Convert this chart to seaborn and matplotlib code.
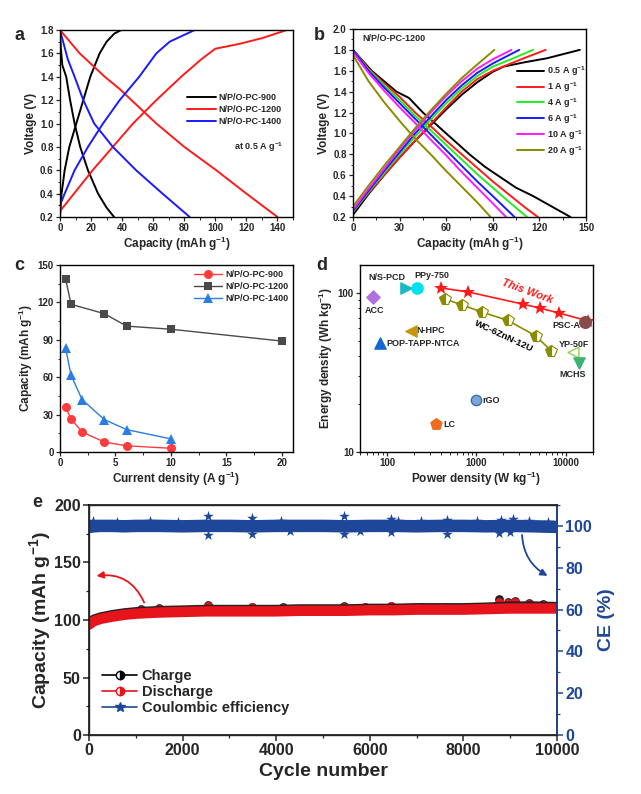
import matplotlib
matplotlib.use("Agg")
import matplotlib.pyplot as plt
from matplotlib.ticker import MultipleLocator, FixedLocator, LogLocator, NullFormatter
from matplotlib.lines import Line2D
import numpy as np
import pandas as pd
import seaborn as sns

sns.set_theme(style="ticks")
plt.rcParams['font.family'] = ['Liberation Sans', 'DejaVu Sans']
plt.rcParams['font.weight'] = 'bold'
plt.rcParams['axes.labelweight'] = 'bold'
plt.rcParams['mathtext.fontset'] = 'custom'
plt.rcParams['mathtext.rm'] = 'Liberation Sans:bold'
plt.rcParams['mathtext.bf'] = 'Liberation Sans:bold'
plt.rcParams['mathtext.default'] = 'rm'
plt.rcParams['axes.linewidth'] = 1.0

# ---------------- data: panel a (GCD at 0.5 A/g) ----------------
a_900_chg_cap = [0, 1, 3, 6, 10.5, 15, 19.5, 25.5, 30, 35, 39.5]
a_900_chg_v = [0.2, 0.4, 0.6, 0.8, 1.0, 1.2, 1.4, 1.6, 1.7, 1.77, 1.8]
a_900_dis_cap = [0, 0.5, 1.5, 4, 6.5, 9.4, 13, 18, 24.5, 30, 34.8]
a_900_dis_v = [1.8, 1.65, 1.5, 1.4, 1.2, 1.0, 0.8, 0.6, 0.4, 0.28, 0.2]
a_1200_chg_cap = [0, 9, 21, 34, 47, 62, 78, 91, 100, 115, 130, 146]
a_1200_chg_v = [0.25, 0.4, 0.6, 0.8, 1.0, 1.2, 1.4, 1.55, 1.64, 1.68, 1.73, 1.8]
a_1200_dis_cap = [0, 12.7, 28.8, 38, 46, 62, 80, 100.6, 120, 140]
a_1200_dis_v = [1.8, 1.6, 1.4, 1.3, 1.2, 1.0, 0.8, 0.6, 0.4, 0.2]
a_1400_chg_cap = [0, 3, 9.4, 18, 27.7, 38.4, 51, 62, 70.6, 86.7]
a_1400_chg_v = [0.3, 0.4, 0.6, 0.8, 1.0, 1.2, 1.4, 1.6, 1.7, 1.8]
a_1400_dis_cap = [0, 2, 5, 9.4, 15, 22, 34, 49, 66, 83.5]
a_1400_dis_v = [1.8, 1.7, 1.55, 1.4, 1.2, 1.0, 0.8, 0.6, 0.4, 0.2]

# ---------------- data: panel b (N/P/O-PC-1200 at rates) ----------------
b_labels = ['0.5 A g$^{-1}$', '1 A g$^{-1}$', '4 A g$^{-1}$', '6 A g$^{-1}$', '10 A g$^{-1}$', '20 A g$^{-1}$']
b_colors = ['black', '#ff1a1a', '#22ee22', '#1a1aff', '#ff1aff', '#8b8b00']
b_chg_cap = [
    [0, 10, 20, 30, 40, 50, 60, 70, 80, 90, 97, 110, 125, 146],
    [0, 10, 20, 30, 40, 50, 60, 70, 80, 90, 100, 110, 124],
    [0, 10, 20, 30, 40, 50, 60, 70, 80, 90, 100, 116],
    [0, 10, 20, 30, 40, 50, 60, 70, 80, 90, 107],
    [0, 10, 20, 30, 40, 50, 60, 70, 80, 90, 102],
    [0, 10, 20, 30, 40, 50, 60, 70, 80, 91],
]
b_chg_v = [
    [0.22, 0.42, 0.6, 0.77, 0.93, 1.08, 1.23, 1.37, 1.49, 1.59, 1.64, 1.68, 1.72, 1.8],
    [0.25, 0.43, 0.6, 0.77, 0.93, 1.09, 1.25, 1.4, 1.52, 1.6, 1.66, 1.72, 1.8],
    [0.25, 0.44, 0.62, 0.8, 0.97, 1.13, 1.29, 1.43, 1.55, 1.64, 1.7, 1.8],
    [0.26, 0.45, 0.64, 0.82, 1.0, 1.16, 1.32, 1.46, 1.58, 1.67, 1.8],
    [0.27, 0.47, 0.66, 0.85, 1.03, 1.2, 1.36, 1.5, 1.62, 1.71, 1.8],
    [0.3, 0.5, 0.69, 0.87, 1.05, 1.22, 1.38, 1.53, 1.66, 1.8],
]
b_dis_cap = [
    [0, 12, 28, 36, 45, 60, 75, 85, 95, 105, 116, 128, 140],
    [0, 10, 20, 30, 40, 50, 60, 70, 80, 90, 100, 110, 119],
    [0, 10, 20, 30, 40, 50, 60, 70, 80, 90, 100, 112],
    [0, 10, 20, 30, 40, 50, 60, 70, 80, 90, 104],
    [0, 10, 20, 30, 40, 50, 60, 70, 80, 90, 98.5],
    [0, 10, 20, 30, 40, 50, 60, 70, 80, 88.6],
]
b_dis_v = [
    [1.8, 1.6, 1.4, 1.34, 1.2, 1.0, 0.8, 0.68, 0.58, 0.48, 0.4, 0.3, 0.2],
    [1.8, 1.62, 1.48, 1.35, 1.2, 1.07, 0.93, 0.8, 0.67, 0.54, 0.42, 0.3, 0.2],
    [1.8, 1.61, 1.46, 1.32, 1.17, 1.03, 0.89, 0.75, 0.61, 0.48, 0.35, 0.2],
    [1.8, 1.6, 1.44, 1.29, 1.14, 0.99, 0.84, 0.69, 0.54, 0.4, 0.2],
    [1.78, 1.58, 1.41, 1.25, 1.1, 0.94, 0.79, 0.63, 0.48, 0.33, 0.2],
    [1.75, 1.5, 1.3, 1.12, 0.95, 0.8, 0.64, 0.49, 0.34, 0.2],
]

# ---------------- data: panel c (rate capability) ----------------
c_900_x = [0.5, 1, 2, 4, 6, 10]
c_900_y = [36, 26.5, 16, 8, 5, 3]
c_1200_x = [0.5, 1, 4, 6, 10, 20]
c_1200_y = [139, 118.5, 111, 101, 98.5, 89]
c_1400_x = [0.5, 1, 2, 4, 6, 10]
c_1400_y = [83.5, 61.5, 42, 26, 18, 10.5]

# ---------------- data: panel d (Ragone) ----------------
d_this_p = [406, 813, 3335, 5140, 8410, 17500]
d_this_e = [107.5, 101.5, 85, 80.4, 74.8, 66.8]
d_wc_p = [443, 684, 1148, 2255, 4590, 6780]
d_wc_e = [91.6, 84.4, 75.9, 67.2, 53.7, 43.5]
d_names = ['ACC', 'N/S-PCD', 'PPy-750', 'N-HPC', 'POP-TAPP-NTCA', 'rGO', 'LC', 'PSC-A', 'YP-50F', 'MCHS']
d_power = [69, 164, 216, 187, 84, 1000, 357, 16100, 11900, 13900]
d_energy = [93.9, 107, 107, 58, 48.3, 21.2, 15, 65.3, 42.8, 36.5]

# ---------------- data: panel e (cycling) ----------------
e_cycle = [0, 100, 250, 500, 750, 1000, 1500, 2000, 2500, 3000, 3500, 4000,
           4500, 5000, 5500, 6000, 6500, 7000, 7500, 8000, 8500, 9000, 9500, 10000]
e_dis = [96, 99, 101, 103, 104.5, 105.5, 106.5, 107, 107.5, 107.5, 107.5, 107.5,
         108, 108, 108, 108.5, 108.5, 109, 109, 109, 109.5, 110, 110, 110]
e_chg = [97, 100.5, 102.5, 104.5, 106, 107, 108, 108.5, 109, 109, 109, 109,
         109.5, 109.5, 109.5, 110, 110, 110.5, 110.5, 110.5, 111, 112, 112, 111.5]
e_ce = [99.5, 99.8, 100, 100, 99.8, 100, 100, 99.8, 100, 100, 99.8, 100,
        100, 100, 99.8, 100, 100, 99.8, 100, 100, 99.8, 100, 99.8, 99.5]
e_bump_cyc = [1100, 1500, 2550, 3480, 4150, 5450, 5900, 6450, 7100, 7650, 8750, 8950, 9100, 9400, 9700]
e_bump_chg = [109.5, 110.5, 113, 111.5, 111, 112, 111.5, 112.5, 111.5, 111.5, 118, 116, 116.5, 115, 114]
e_bump_dis = [108.5, 109.5, 112, 111, 110.5, 111.5, 111, 112, 111, 111, 116, 115, 115.5, 114, 113]
e_spike_cyc = [80, 600, 1300, 1900, 2550, 2550, 3480, 3480, 4100, 4300, 5450, 5450, 5800, 6450,
               6450, 6600, 7100, 7650, 7650, 8300, 8750, 8800, 9000, 9050, 9400, 9800]
e_spike_ce = [102.5, 102, 102.5, 102, 104.5, 95.5, 104, 96, 102.5, 97.5, 104.5, 96, 97.5, 103.5,
              97, 102.5, 102.5, 103, 96, 102.5, 96.5, 103, 97, 103.5, 102.5, 102]

TICK = 7
LAB = 8.5

fig = plt.figure(figsize=(6.41, 7.94), dpi=100)
fig.patch.set_facecolor('white')


def style_small(ax):
    ax.tick_params(direction='out', length=3, width=0.9, labelsize=TICK, pad=1.5)
    ax.tick_params(which='minor', direction='out', length=1.8, width=0.7)
    for s in ax.spines.values():
        s.set_linewidth(1.0)
        s.set_color('black')


def curve(ax, x, y, color, label=None):
    sns.lineplot(x=x, y=y, ax=ax, color=color, linewidth=1.4, label=label, sort=False,
                 estimator=None)


# ---------------- panel a ----------------
ax_a = fig.add_axes([0.0936, 0.7267, 0.3635, 0.2355])
curve(ax_a, a_900_chg_cap, a_900_chg_v, 'black', 'N/P/O-PC-900')
curve(ax_a, a_900_dis_cap, a_900_dis_v, 'black')
curve(ax_a, a_1200_chg_cap, a_1200_chg_v, '#ff1a1a', 'N/P/O-PC-1200')
curve(ax_a, a_1200_dis_cap, a_1200_dis_v, '#ff1a1a')
curve(ax_a, a_1400_chg_cap, a_1400_chg_v, '#1a1aff', 'N/P/O-PC-1400')
curve(ax_a, a_1400_dis_cap, a_1400_dis_v, '#1a1aff')
ax_a.set_xlim(0, 150)
ax_a.set_ylim(0.2, 1.8)
ax_a.xaxis.set_major_locator(FixedLocator([0, 20, 40, 60, 80, 100, 120, 140]))
ax_a.yaxis.set_major_locator(MultipleLocator(0.2))
ax_a.xaxis.set_minor_locator(MultipleLocator(10))
ax_a.yaxis.set_minor_locator(MultipleLocator(0.1))
ax_a.yaxis.set_major_formatter(plt.FormatStrFormatter('%.1f'))
ax_a.set_xlabel('Capacity (mAh g$^{-1}$)', fontsize=LAB, labelpad=1)
ax_a.set_ylabel('Voltage (V)', fontsize=LAB, labelpad=2)
ax_a.legend(loc='center left', bbox_to_anchor=(0.53, 0.575), frameon=False, fontsize=6.5,
            handlelength=3.2, handletextpad=0.3, labelspacing=0.35, borderaxespad=0)
ax_a.text(0.745, 0.375, 'at 0.5 A g$^{-1}$', transform=ax_a.transAxes, fontsize=6.5, va='center')
style_small(ax_a)

# ---------------- panel b ----------------
ax_b = fig.add_axes([0.5507, 0.7267, 0.3635, 0.2368])
for lab, col, cx, cy, dx, dy in zip(b_labels, b_colors, b_chg_cap, b_chg_v, b_dis_cap, b_dis_v):
    curve(ax_b, cx, cy, col, lab)
    curve(ax_b, dx, dy, col)
ax_b.set_xlim(0, 150)
ax_b.set_ylim(0.2, 2.0)
ax_b.xaxis.set_major_locator(MultipleLocator(30))
ax_b.xaxis.set_minor_locator(MultipleLocator(15))
ax_b.yaxis.set_major_locator(MultipleLocator(0.2))
ax_b.yaxis.set_minor_locator(MultipleLocator(0.1))
ax_b.yaxis.set_major_formatter(plt.FormatStrFormatter('%.1f'))
ax_b.set_xlabel('Capacity (mAh g$^{-1}$)', fontsize=LAB, labelpad=1)
ax_b.set_ylabel('Voltage (V)', fontsize=LAB, labelpad=2)
ax_b.legend(loc='center left', bbox_to_anchor=(0.69, 0.565), frameon=False, fontsize=6.5,
            handlelength=3.0, handletextpad=0.3, labelspacing=0.25, borderaxespad=0)
ax_b.text(0.04, 0.95, 'N/P/O-PC-1200', transform=ax_b.transAxes, fontsize=6.5, va='center')
style_small(ax_b)

# ---------------- panel c ----------------
ax_c = fig.add_axes([0.0936, 0.4307, 0.3635, 0.2355])
sns.lineplot(x=c_900_x, y=c_900_y, ax=ax_c, color='#ff3b3b', marker='o', markersize=6.5,
             markeredgewidth=0, linewidth=1.0, label='N/P/O-PC-900')
sns.lineplot(x=c_1200_x, y=c_1200_y, ax=ax_c, color='#4a4a4a', marker='s', markersize=6,
             markeredgewidth=0, linewidth=1.0, label='N/P/O-PC-1200')
sns.lineplot(x=c_1400_x, y=c_1400_y, ax=ax_c, color='#2a7de1', marker='^', markersize=7,
             markeredgewidth=0, linewidth=1.0, label='N/P/O-PC-1400')
ax_c.set_xlim(0, 21)
ax_c.set_ylim(0, 150)
ax_c.xaxis.set_major_locator(MultipleLocator(5))
ax_c.xaxis.set_minor_locator(MultipleLocator(2.5))
ax_c.yaxis.set_major_locator(MultipleLocator(30))
ax_c.yaxis.set_minor_locator(MultipleLocator(15))
ax_c.set_xlabel('Current density (A g$^{-1}$)', fontsize=LAB, labelpad=1)
ax_c.set_ylabel('Capacity (mAh g$^{-1}$)', fontsize=LAB, labelpad=2)
ax_c.legend(loc='upper left', bbox_to_anchor=(0.55, 1.0), frameon=False, fontsize=6.5,
            handlelength=3.2, handletextpad=0.3, labelspacing=0.3, borderaxespad=0.2)
style_small(ax_c)

# ---------------- panel d ----------------
ax_d = fig.add_axes([0.5616, 0.4307, 0.3635, 0.2355])
ax_d.set_xscale('log')
ax_d.set_yscale('log')
sns.lineplot(x=d_this_p, y=d_this_e, ax=ax_d, color='#ff1a1a', marker='*', markersize=10,
             markeredgewidth=0, linewidth=1.2)
sns.lineplot(x=d_wc_p, y=d_wc_e, ax=ax_d, color='#8b8b00', marker='p', markersize=8.5,
             fillstyle='left', markerfacecoloralt='white', markeredgecolor='#8b8b00',
             markeredgewidth=0.8, linewidth=1.2)
d_styles = {
    'ACC': dict(marker='D', color='#b070e0', s=45),
    'N/S-PCD': dict(marker='>', color='#1ab8c0', s=65),
    'PPy-750': dict(marker='o', color='#00e0f0', s=65),
    'N-HPC': dict(marker='<', color='#c8960a', s=65),
    'POP-TAPP-NTCA': dict(marker='^', color='#1565d8', s=65),
    'rGO': dict(marker='o', color='#7ba7d8', s=55),
    'LC': dict(marker='p', color='#f26a1b', s=70),
    'PSC-A': dict(marker='o', color='#8b4a4a', s=70),
    'YP-50F': dict(marker='<', color='white', s=60),
    'MCHS': dict(marker='v', color='#3cb371', s=65),
}
for name, p, e in zip(d_names, d_power, d_energy):
    st = d_styles[name]
    edge = '#8fd14f' if name == 'YP-50F' else ('#3a6ea5' if name == 'rGO' else st['color'])
    ax_d.scatter([p], [e], marker=st['marker'], s=st['s'], c=st['color'], edgecolors=edge,
                 linewidths=1.0, zorder=4)
d_text = [
    ('N/S-PCD', 99, 125.6, 'center'), ('PPy-750', 313, 129, 'center'), ('ACC', 73, 77.3, 'center'),
    ('N-HPC', 212, 58, 'left'), ('POP-TAPP-NTCA', 99, 48.3, 'left'), ('rGO', 1150, 21.2, 'left'),
    ('LC', 432, 15, 'left'), ('PSC-A', 10000, 62.5, 'center'), ('YP-50F', 12400, 47.7, 'center'),
    ('MCHS', 11900, 30.8, 'center'),
]
for t, x, y, ha in d_text:
    ax_d.text(x, y, t, fontsize=6.5, ha=ha, va='center')
ax_d.text(3700, 102.5, 'This Work', color='#ff1a1a', fontsize=8, style='italic',
          rotation=-20, ha='center', va='center')
ax_d.text(2020, 53.2, 'WC-6ZnN-12U', color='black', fontsize=6.8,
          rotation=-25, ha='center', va='center')
ax_d.set_xlim(50, 20000)
ax_d.set_ylim(10, 150)
ax_d.xaxis.set_major_locator(FixedLocator([100, 1000, 10000]))
ax_d.xaxis.set_major_formatter(plt.FixedFormatter(['100', '1000', '10000']))
ax_d.yaxis.set_major_locator(FixedLocator([10, 100]))
ax_d.yaxis.set_major_formatter(plt.FixedFormatter(['10', '100']))
ax_d.xaxis.set_minor_locator(LogLocator(base=10, subs=np.arange(2, 10)))
ax_d.yaxis.set_minor_locator(LogLocator(base=10, subs=np.arange(2, 10)))
ax_d.xaxis.set_minor_formatter(NullFormatter())
ax_d.yaxis.set_minor_formatter(NullFormatter())
ax_d.set_xlabel('Power density (W kg$^{-1}$)', fontsize=LAB, labelpad=1)
ax_d.set_ylabel('Energy density (Wh kg$^{-1}$)', fontsize=LAB, labelpad=2)
style_small(ax_d)

# ---------------- panel e ----------------
RED = '#e8141c'
BLUE = '#1f4799'
ax_e = fig.add_axes([0.139, 0.0743, 0.730, 0.2897])
sns.lineplot(x=e_cycle, y=e_chg, ax=ax_e, color='#222222', linewidth=7, sort=False, estimator=None)
sns.scatterplot(x=e_bump_cyc, y=e_bump_chg, ax=ax_e, color='#222222', marker='o', s=40,
                linewidth=0)
sns.lineplot(x=e_cycle, y=e_dis, ax=ax_e, color=RED, linewidth=7.5, sort=False, estimator=None)
sns.scatterplot(x=e_bump_cyc, y=e_bump_dis, ax=ax_e, color=RED, marker='o', s=40, linewidth=0)
ax_e.set_xlim(0, 10000)
ax_e.set_ylim(0, 200)
ax_e.xaxis.set_major_locator(MultipleLocator(2000))
ax_e.xaxis.set_minor_locator(MultipleLocator(1000))
ax_e.yaxis.set_major_locator(MultipleLocator(50))
ax_e.yaxis.set_minor_locator(MultipleLocator(25))
ax_e.tick_params(direction='out', length=4, width=1.1, labelsize=11.5, pad=2)
ax_e.tick_params(which='minor', direction='out', length=2.5, width=0.9)
ax_e.set_xlabel('Cycle number', fontsize=14, labelpad=3)
ax_e.set_ylabel('Capacity (mAh g$^{-1}$)', fontsize=14, labelpad=1)
for s in ax_e.spines.values():
    s.set_linewidth(1.1)
    s.set_color('black')

ax_e2 = ax_e.twinx()
sns.lineplot(x=e_cycle, y=e_ce, ax=ax_e2, color=BLUE, linewidth=9, sort=False, estimator=None)
sns.scatterplot(x=e_spike_cyc, y=e_spike_ce, ax=ax_e2, color=BLUE, marker='*', s=65,
                linewidth=0)
ax_e2.set_ylim(0, 110)
ax_e2.yaxis.set_major_locator(MultipleLocator(20))
ax_e2.yaxis.set_minor_locator(MultipleLocator(10))
ax_e2.tick_params(axis='y', direction='out', length=4, width=1.1, labelsize=11.5, pad=2,
                  colors=BLUE)
ax_e2.tick_params(axis='y', which='minor', direction='out', length=2.5, width=0.9, colors=BLUE)
ax_e2.spines['right'].set_color(BLUE)
ax_e2.spines['right'].set_linewidth(1.1)
ax_e2.set_ylabel('CE (%)', fontsize=14, color=BLUE, labelpad=4)

ax_e.annotate('', xy=(100, 138), xytext=(1200, 113),
              arrowprops=dict(arrowstyle='-|>', color=RED, lw=1.3, mutation_scale=10,
                              connectionstyle='arc3,rad=0.4'))
ax_e2.annotate('', xy=(9850, 75.5), xytext=(9250, 97),
               arrowprops=dict(arrowstyle='-|>', color=BLUE, lw=1.3, mutation_scale=10,
                               connectionstyle='arc3,rad=0.3'))

e_handles = [
    Line2D([], [], color='black', lw=1.2, marker='o', markersize=6, fillstyle='right',
           markerfacecolor='black', markerfacecoloralt='white', markeredgecolor='black'),
    Line2D([], [], color=RED, lw=1.2, marker='o', markersize=6, fillstyle='right',
           markerfacecolor=RED, markerfacecoloralt='white', markeredgecolor=RED),
    Line2D([], [], color=BLUE, lw=1.2, marker='*', markersize=7),
]
ax_e.legend(e_handles, ['Charge', 'Discharge', 'Coulombic efficiency'], loc='lower left',
            bbox_to_anchor=(0.0, 0.03), frameon=False, fontsize=10.5, handlelength=2.4,
            handletextpad=0.3, labelspacing=0.15)

# panel letters
for letter, x, y in [('a', 0.022, 0.955), ('b', 0.49, 0.955), ('c', 0.022, 0.665),
                     ('d', 0.493, 0.665), ('e', 0.05, 0.367)]:
    fig.text(x, y, letter, fontsize=13, fontweight='bold', va='center')

fig.savefig('out.png', dpi=100, facecolor='white')
